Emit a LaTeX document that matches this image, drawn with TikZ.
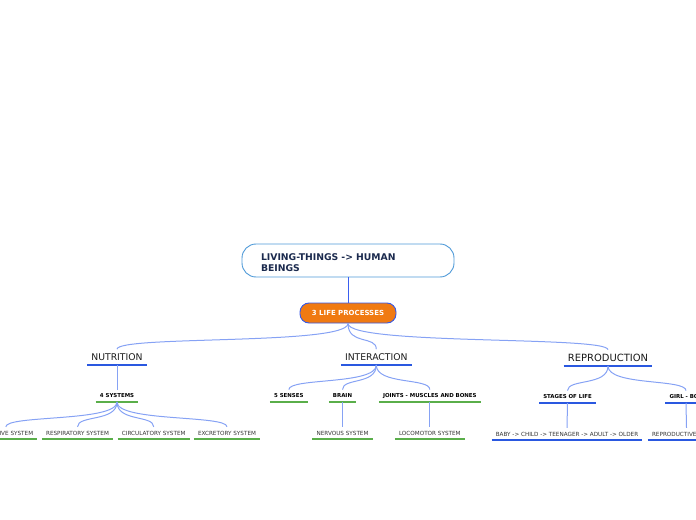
\documentclass[tikz,border=0pt]{standalone}
\usepackage{fontspec}
\setmainfont{DejaVu Sans}
\definecolor{rootdraw}{HTML}{4F9AD8}
\definecolor{roottext}{HTML}{1B2A4E}
\definecolor{lpfill}{HTML}{F07A12}
\definecolor{lpdraw}{HTML}{3558E8}
\definecolor{mainline}{HTML}{3A5FF0}
\definecolor{connc}{HTML}{86A2F4}
\definecolor{ulb}{HTML}{2A58E0}
\definecolor{ulg}{HTML}{5AAE4A}
\definecolor{txtone}{HTML}{1A1A1A}
\definecolor{txttwo}{HTML}{333333}
\begin{document}
\begin{tikzpicture}[x=1bp,y=-1bp,
  conn/.style={draw=connc, line width=1bp},
  tree/.style={to path={.. controls +(0,20) and +(0,-12) .. (\tikztotarget)}},
  treetop/.style={to path={.. controls +(0,22) and +(0,-14) .. (\tikztotarget)}},
  ublueline/.style={draw=ulb, line width=1.8bp},
  ugreenline/.style={draw=ulg, line width=1.5bp},
  topic/.style={anchor=south, inner xsep=4bp, inner ysep=4.3bp, text depth=0pt, text=txtone,
    font=\fontsize{9.3}{11}\selectfont, text height=6.8pt},
  bigtopic/.style={topic, font=\fontsize{10}{12}\selectfont, text height=7.3pt},
  subb/.style={anchor=south, inner xsep=4bp, inner ysep=4bp, text depth=0pt, text=black,
    font=\fontsize{5.45}{6.5}\selectfont\bfseries, text height=4pt},
  subr/.style={anchor=south, inner xsep=4bp, inner ysep=3.8bp, text depth=0pt, text=txttwo,
    font=\fontsize{5.7}{7}\selectfont, text height=4.2pt},
  rootbox/.style={draw=rootdraw, line width=0.9bp, fill=white, rounded corners=14bp,
    align=left, text width=174bp, inner xsep=19bp, minimum height=33bp, text=roottext,
    font=\fontsize{9.3}{11}\selectfont\bfseries},
  lpbox/.style={draw=lpdraw, line width=0.9bp, fill=lpfill, rounded corners=9bp,
    minimum width=96bp, minimum height=20bp, inner sep=0pt, text=white,
    font=\fontsize{7}{8}\selectfont\bfseries}
]
\useasboundingbox (0,0) rectangle (696,520);
\clip (0,0) rectangle (696,520);

% central nodes
\node[rootbox] (root) at (348,260.5) {\rule{0pt}{10.8pt}LIVING-THINGS -> HUMAN\\BEINGS};
\node[lpbox] (lp) at (348,313) {3 LIFE PROCESSES};
\draw[mainline, line width=1bp] (root.south) -- (lp.north);

% level 1
\node[topic] (nut) at (117,365) {NUTRITION};
\node[topic] (inter) at (376.3,365) {INTERACTION};
\node[bigtopic] (repro) at (608,366) {REPRODUCTION};

% nutrition branch
\node[subb] (sys) at (117,402) {4 SYSTEMS};
\node[subr] (dig) at (5.8,439) {DIGESTIVE SYSTEM};
\node[subr] (resp) at (77.5,439) {RESPIRATORY SYSTEM};
\node[subr] (circ) at (153.7,439) {CIRCULATORY SYSTEM};
\node[subr] (excr) at (227,439) {EXCRETORY SYSTEM};

% interaction branch
\node[subb] (sens) at (288.8,402) {5 SENSES};
\node[subb] (brain) at (342.5,402) {BRAIN};
\node[subb] (joint) at (429.8,402) {JOINTS - MUSCLES AND BONES};
\node[subr] (nerv) at (342.5,439) {NERVOUS SYSTEM};
\node[subr] (loco) at (429.8,439) {LOCOMOTOR SYSTEM};

% reproduction branch
\node[subb] (stage) at (567.5,403) {STAGES OF LIFE};
\node[subb] (girl) at (686,403) {GIRL - BOY};
\node[subr] (baby) at (567,440) {BABY -> CHILD -> TEENAGER -> ADULT -> OLDER};
\node[subr] (rsys) at (686.5,440) {REPRODUCTIVE SYSTEM};

% underlines
\foreach \n in {nut,inter,repro,stage,girl,baby,rsys}
  \draw[ublueline] (\n.south west) -- (\n.south east);
\foreach \n in {sys,dig,resp,circ,excr,sens,brain,joint,nerv,loco}
  \draw[ugreenline] (\n.south west) -- (\n.south east);

% connectors
\draw[conn, treetop] (lp.south) to (nut.north);
\draw[conn, treetop] (lp.south) to (inter.north);
\draw[conn, treetop] (lp.south) to (repro.north);

\draw[conn] (nut.south) -- (sys.north);
\draw[conn, tree] (sys.south) to (dig.north);
\draw[conn, tree] (sys.south) to (resp.north);
\draw[conn, tree] (sys.south) to (circ.north);
\draw[conn, tree] (sys.south) to (excr.north);

\draw[conn, tree] (inter.south) to (sens.north);
\draw[conn, tree] (inter.south) to (brain.north);
\draw[conn, tree] (inter.south) to (joint.north);
\draw[conn] (brain.south) -- (nerv.north);
\draw[conn] (joint.south) -- (loco.north);

\draw[conn, tree] (repro.south) to (stage.north);
\draw[conn, tree] (repro.south) to (girl.north);
\draw[conn] (stage.south) -- (baby.north);
\draw[conn] (girl.south) -- (rsys.north);
\end{tikzpicture}
\end{document}
